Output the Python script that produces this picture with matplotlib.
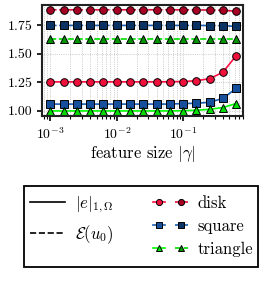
import numpy as np
import matplotlib
matplotlib.use("Agg")
from matplotlib import pyplot as plt
from matplotlib.legend_handler import HandlerTuple
from matplotlib.lines import Line2D
from matplotlib.patches import Rectangle

plt.rcParams["font.family"] = "serif"
plt.rcParams["font.serif"] = ["cmr10"]
plt.rcParams["mathtext.fontset"] = "cm"
plt.rcParams["axes.formatter.use_mathtext"] = True

# feature size |gamma|
gamma = [1.0e-3, 1.585e-3, 2.512e-3, 3.981e-3, 6.310e-3,
         1.0e-2, 1.585e-2, 2.512e-2, 3.981e-2, 6.310e-2,
         1.0e-1, 1.585e-1, 2.512e-1, 3.981e-1, 6.310e-1]

# |e|_{1,Omega}  (solid)
err_disk = [1.255, 1.255, 1.255, 1.255, 1.255, 1.255, 1.255, 1.255,
            1.255, 1.256, 1.258, 1.265, 1.283, 1.339, 1.485]
err_square = [1.06, 1.06, 1.06, 1.06, 1.06, 1.06, 1.06, 1.06,
              1.06, 1.06, 1.065, 1.067, 1.076, 1.11, 1.198]
err_triangle = [1.0, 1.0, 1.0, 1.0, 1.0, 1.0, 1.0, 1.0,
                1.0, 1.0, 1.002, 1.006, 1.014, 1.03, 1.065]

# E(u_0)  (dashed)
est_disk = [1.887, 1.887, 1.887, 1.887, 1.887, 1.887, 1.887, 1.887,
            1.887, 1.887, 1.887, 1.886, 1.885, 1.883, 1.874]
est_square = [1.75, 1.75, 1.75, 1.75, 1.75, 1.75, 1.75, 1.75,
              1.75, 1.75, 1.75, 1.75, 1.749, 1.748, 1.741]
est_triangle = [1.629, 1.629, 1.629, 1.629, 1.629, 1.629, 1.629, 1.629,
                1.629, 1.629, 1.629, 1.629, 1.629, 1.629, 1.629]

shapes = ["disk", "square", "triangle"]
markers = {"disk": "o", "square": "s", "triangle": "^"}
light = {"disk": ("#ff1040", "#f0103c"), "square": ("#1a5fb0", "#164f9c"),
         "triangle": ("#00ff00", "#00dd00")}
dark = {"disk": ("#e0103a", "#a80024"), "square": ("#1a5fb0", "#0a3364"),
        "triangle": ("#00dd00", "#009400")}
err = {"disk": err_disk, "square": err_square, "triangle": err_triangle}
est = {"disk": est_disk, "square": est_square, "triangle": est_triangle}

fig = plt.figure(figsize=(2.63, 2.88), dpi=100)
ax = fig.add_axes([0.16, 0.597, 0.764, 0.386])

handles = {}
for s in shapes:
    h1, = ax.plot(gamma, err[s], "-", color=light[s][0], marker=markers[s],
                  mfc=light[s][1], mec="black", mew=0.7, ms=5.5, lw=1.2)
    h2, = ax.plot(gamma, est[s], "--", color=dark[s][0], marker=markers[s],
                  mfc=dark[s][1], mec="black", mew=0.7, ms=5.5, lw=1.2)
    handles[s] = (h1, h2)

ax.set_xscale("log")
ax.set_xlim(7.5e-4, 0.8)
ax.set_ylim(0.955, 1.93)
ax.set_yticks([1.0, 1.25, 1.5, 1.75])
ax.set_yticklabels(["1.00", "1.25", "1.50", "1.75"])
ax.grid(True, which="both", axis="x", ls=":", lw=0.5, color="#aaaaaa")
ax.grid(True, which="major", axis="y", ls=":", lw=0.5, color="#aaaaaa")
ax.tick_params(labelsize=10, width=1.2)
ax.tick_params(which="minor", width=0.8)
for sp in ax.spines.values():
    sp.set_linewidth(1.5)
    sp.set_color("#222222")
ax.set_xlabel(r"feature size $|\gamma|$", fontsize=12, labelpad=2)

solid = Line2D([], [], color="black", ls="-", lw=1.2)
dashed = Line2D([], [], color="black", ls="--", lw=1.2)
blank = Line2D([], [], color="none")
leg = fig.legend([solid, dashed, blank] + [handles[s] for s in shapes],
                 [r"$|e|_{1,\Omega}$", r"$\mathcal{E}(u_0)$", ""] + shapes,
                 ncol=2, loc="upper left", bbox_to_anchor=(0.081, 0.355),
                 borderaxespad=0, frameon=False,
                 handler_map={tuple: HandlerTuple(ndivide=None, pad=0.6)},
                 fontsize=12, handlelength=2.1, handletextpad=0.6,
                 columnspacing=2.3, labelspacing=0.45, borderpad=0.55,
                 markerscale=0.8)

# legend box, drawn separately so its size matches
fig.add_artist(Rectangle((23.5 / 263, 1 - 267 / 288), (258 - 23.5) / 263,
                         (267 - 186) / 288, transform=fig.transFigure,
                         fill=False, lw=1.3, ec="black"))

fig.savefig("out.png", dpi=100)
